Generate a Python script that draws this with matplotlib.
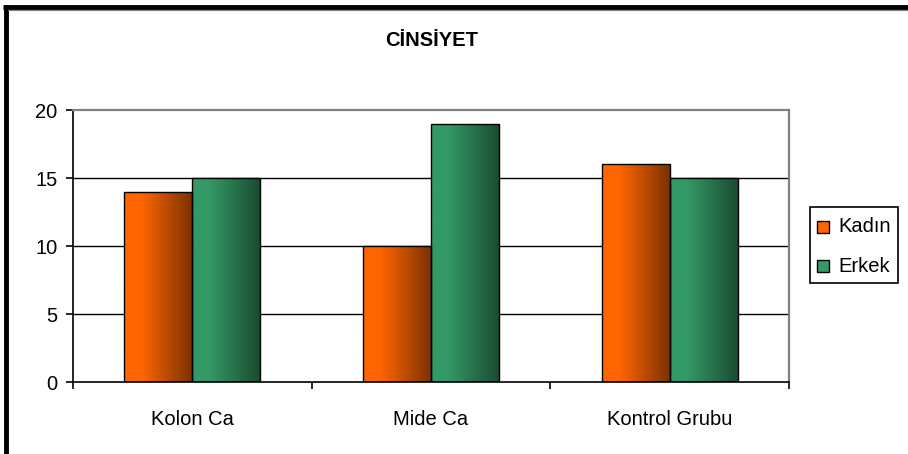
import numpy as np
import matplotlib
matplotlib.use("Agg")
import matplotlib.pyplot as plt
from matplotlib.colors import LinearSegmentedColormap
from matplotlib.lines import Line2D
from matplotlib.patches import Rectangle

plt.rcParams["font.family"] = ["Liberation Sans", "DejaVu Sans"]

# ---- data --------------------------------------------------------------------
groups = ["Kolon Ca", "Mide Ca", "Kontrol Grubu"]
series = ["Kadın", "Erkek"]
kadin = [14, 10, 16]
erkek = [15, 19, 15]
title = "CİNSİYET"

# ---- style -------------------------------------------------------------------
W, H, DPI = 908, 454, 100
FS = 14.5
ORANGE = ("#ff6600", "#7a3000")
GREEN = ("#339966", "#1a4a30")
GREY = "#808080"


def px(x, y):
    """pixel (from top-left) -> figure fraction"""
    return x / W, 1 - y / H


def gradient_fill(ax, bar, cols):
    cmap = LinearSegmentedColormap.from_list(
        "g", [(0.0, cols[0]), (0.25, cols[0]), (1.0, cols[1])])
    x0, y0 = bar.get_x(), bar.get_y()
    grad = np.linspace(0, 1, 256).reshape(1, -1)
    im = ax.imshow(grad, cmap=cmap, aspect="auto", interpolation="bilinear",
                   extent=(x0, x0 + bar.get_width(), y0, y0 + bar.get_height()),
                   zorder=2)
    im.set_clip_path(bar)
    bar.set_facecolor("none")


fig = plt.figure(figsize=(W / DPI, H / DPI), dpi=DPI)
fig.patch.set_facecolor("white")
l, b = px(73, 382)
ax = fig.add_axes([l, b, (789 - 73) / W, (382 - 110) / H])

x = np.arange(len(groups))
bw = 0.285
bars_k = ax.bar(x - bw / 2, kadin, bw, edgecolor="black", linewidth=1.0, zorder=3)
bars_e = ax.bar(x + bw / 2, erkek, bw, edgecolor="black", linewidth=1.0, zorder=3)
for r in bars_k:
    gradient_fill(ax, r, ORANGE)
for r in bars_e:
    gradient_fill(ax, r, GREEN)

ax.set_xlim(-0.5, len(groups) - 0.5)
ax.set_ylim(0, 20)
ax.set_yticks([0, 5, 10, 15, 20])
for v in [5, 10, 15]:
    ax.axhline(v, color="black", lw=1.0, zorder=1)

ax.set_xticks(x)
ax.set_xticklabels(groups, fontsize=FS)
ax.set_xticks(np.arange(-0.5, len(groups)), minor=True)
ax.tick_params(axis="x", which="major", length=0, pad=20)
ax.tick_params(axis="x", which="minor", length=5, width=1.2, color="black")
ax.tick_params(axis="y", length=5, width=1.2, labelsize=FS, pad=6)

for s in ["left", "bottom"]:
    ax.spines[s].set_color("black")
    ax.spines[s].set_linewidth(1.2)
for s in ["top", "right"]:
    ax.spines[s].set_color(GREY)
    ax.spines[s].set_linewidth(1.6)

fig.text(*px(432, 40), title, ha="center", va="center", fontsize=FS,
         fontweight="bold")

# ---- legend ------------------------------------------------------------------
lx0, ly0 = px(810, 283)
lx1, ly1 = px(898, 207)
fig.add_artist(Rectangle((lx0, ly0), lx1 - lx0, ly1 - ly0, transform=fig.transFigure,
                         facecolor="white", edgecolor="black", lw=1.2))
for name, cols, yy in [(series[0], ORANGE, 227), (series[1], GREEN, 266)]:
    sx, sy = px(817, yy + 6)
    fig.add_artist(Rectangle((sx, sy), 12 / W, 12 / H, transform=fig.transFigure,
                             facecolor=cols[0], edgecolor="black", lw=1.0))
    fig.text(*px(838, yy), name, ha="left", va="center", fontsize=FS)

# ---- frame (top and left edge) ----------------------------------------------
fig.add_artist(Line2D([3 / W, 1], [1 - 7 / H] * 2, transform=fig.transFigure,
                      color="black", lw=3.5, solid_capstyle="butt"))
fig.add_artist(Line2D([5.5 / W] * 2, [0, 1 - 5 / H], transform=fig.transFigure,
                      color="black", lw=3.5, solid_capstyle="butt"))
fig.add_artist(Line2D([8 / W, 1], [1 - 9.8 / H] * 2, transform=fig.transFigure,
                      color=GREY, lw=0.8))

fig.savefig("out.png", dpi=DPI, facecolor="white")
